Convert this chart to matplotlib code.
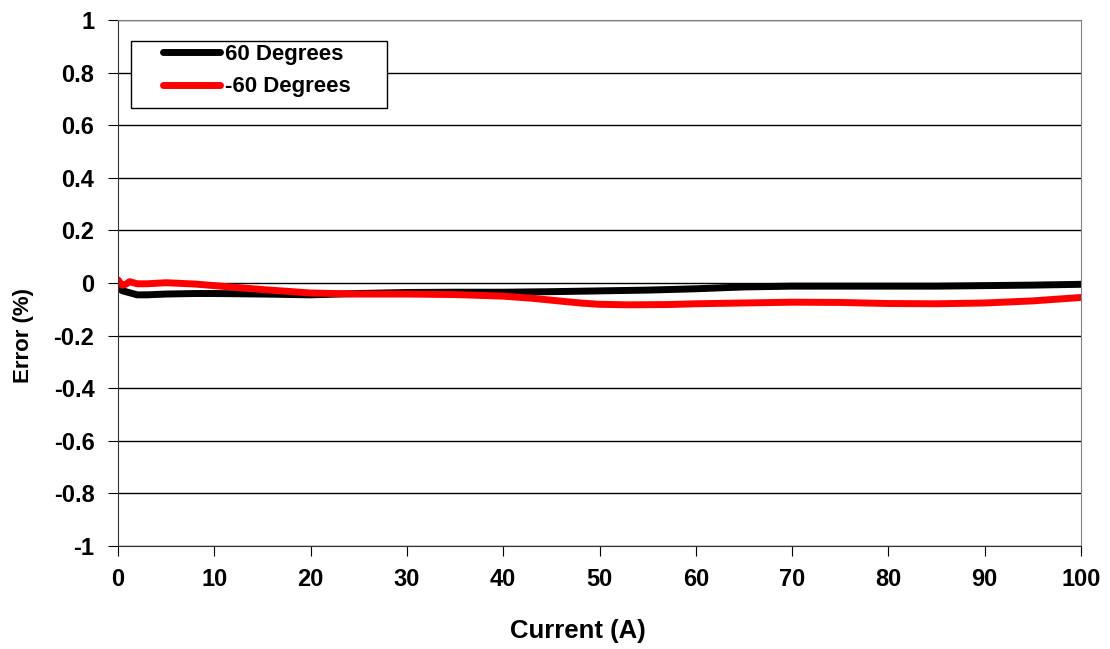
import numpy as np
import matplotlib.pyplot as plt
from matplotlib.patches import Rectangle

# data
current = [0, 0.5, 1, 2, 3, 5, 8, 10, 15, 20, 25, 30, 35, 40, 45, 50, 55, 60, 65, 70, 75, 80, 85, 90, 95, 100]
err_pos60 = [-0.02, -0.03, -0.035, -0.045, -0.045, -0.042, -0.04, -0.04, -0.042, -0.045, -0.04, -0.036, -0.035, -0.035,
             -0.033, -0.03, -0.027, -0.022, -0.015, -0.012, -0.012, -0.012, -0.012, -0.01, -0.008, -0.005]
current_neg = [0, 0.4, 0.8, 1.2, 2, 3, 5, 8, 10, 15, 20, 25, 30, 35, 40, 43, 46, 48, 50, 53, 57, 60, 65, 70, 75,
               80, 85, 90, 95, 100]
err_neg60 = [0.012, -0.008, -0.005, 0.005, -0.003, -0.003, 0.001, -0.004, -0.01, -0.025, -0.038, -0.042, -0.042,
             -0.044, -0.05, -0.058, -0.069, -0.076, -0.081, -0.083, -0.082, -0.079, -0.076, -0.073, -0.074,
             -0.078, -0.079, -0.076, -0.068, -0.055]

plt.rcParams['font.family'] = ['Liberation Sans', 'DejaVu Sans']
plt.rcParams['font.weight'] = 'bold'

fig = plt.figure(figsize=(11.1, 6.49), dpi=100)
ax = fig.add_axes([0.1063, 0.1587, 0.8676, 0.8105])

ax.plot(current, err_pos60, color='black', lw=5, label='60 Degrees', solid_capstyle='round')
ax.plot(current_neg, err_neg60, color='red', lw=5, label='-60 Degrees', solid_capstyle='round')

ax.set_xlim(0, 100)
ax.set_ylim(-1, 1)
ax.set_xticks(np.arange(0, 101, 10))
ax.set_yticks(np.arange(-1, 1.01, 0.2))
ax.set_yticklabels(['-1', '-0.8', '-0.6', '-0.4', '-0.2', '0', '0.2', '0.4', '0.6', '0.8', '1'])
ax.yaxis.grid(True, color='black', lw=1)
ax.set_axisbelow(True)
ax.tick_params(labelsize=17, length=7, color='black')
ax.tick_params(axis='x', pad=9)
ax.tick_params(axis='y', pad=10)
for lab in ax.get_xticklabels() + ax.get_yticklabels():
    lab.set_fontweight('bold')
for s in ['top', 'right']:
    ax.spines[s].set_color('gray')
ax.spines['left'].set_color('#333333')
ax.spines['bottom'].set_color('#333333')

ax.set_xlabel('Current (A)', fontsize=18.5, fontweight='bold')
ax.xaxis.set_label_coords(0.478, -0.138)
ax.set_ylabel('Error (%)', fontsize=16, fontweight='bold')
ax.yaxis.set_label_coords(-0.087, 0.401)

# legend box drawn like the Excel one, with roomy margins
ax.add_patch(Rectangle((0.0135, 0.8327), 0.2658, 0.1274, transform=ax.transAxes, fill=True,
                       facecolor='white', edgecolor='black', lw=1, zorder=4))
leg = ax.legend(loc='upper left', bbox_to_anchor=(0.0467, 0.955), fontsize=16, frameon=False,
                handlelength=2.57, handletextpad=0.2, borderpad=0, borderaxespad=0, labelspacing=0.53)
leg.set_zorder(5)
for t in leg.get_texts():
    t.set_fontweight('bold')

fig.savefig('out.png', dpi=100)
